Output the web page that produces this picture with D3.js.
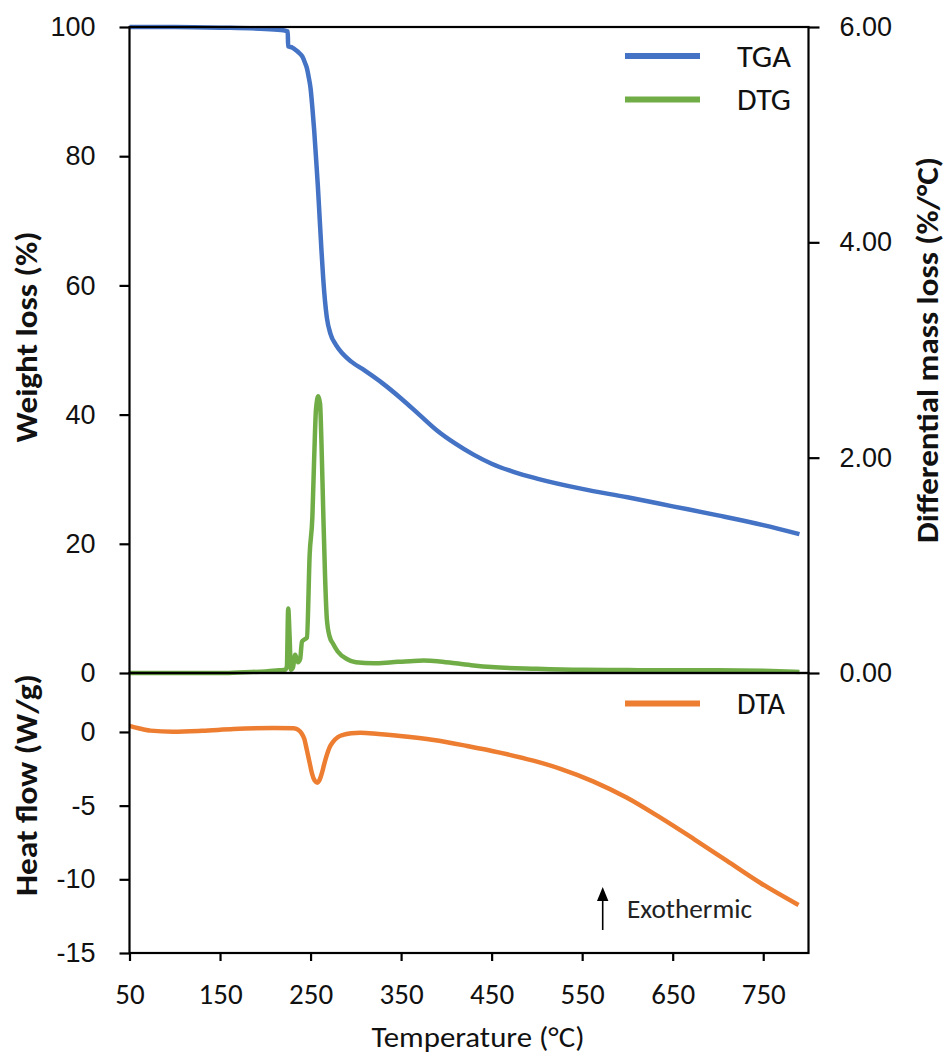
<!DOCTYPE html>
<html>
<head>
<meta charset="utf-8">
<script src="https://cdn.jsdelivr.net/npm/d3@7"></script>
<style>
  html, body { margin: 0; padding: 0; background: #fff; }
  svg { display: block; }
</style>
</head>
<body>
<svg id="chart" width="945" height="1057"></svg>
<script>
// ---------------- DATA ----------------
const xTicks = [50, 150, 250, 350, 450, 550, 650, 750];
const yLeftTicks = [0, 20, 40, 60, 80, 100];
const yRightTicks = [0, 2, 4, 6];
const yHeatTicks = [0, -5, -10, -15];

// TGA: temperature (°C) / weight (%)
const tgaT = [50, 100, 150, 200, 220, 224.8, 225.2, 230, 234, 238, 241, 244, 246, 248, 250, 252, 254, 256, 258, 260, 262, 264, 266, 268, 272, 278, 285, 295, 310, 330, 350, 370, 390, 410, 430, 450, 475, 500, 550, 600, 650, 700, 750, 790];
const tgaW = [100, 100, 99.9, 99.7, 99.5, 99.3, 97.0, 96.8, 96.4, 95.9, 95.4, 94.4, 93.6, 92.2, 90.5, 87.5, 84.0, 79.8, 75.5, 70.5, 65.5, 61.0, 57.5, 55.0, 52.5, 50.8, 49.5, 48.2, 46.8, 44.8, 42.5, 40.0, 37.5, 35.5, 33.8, 32.4, 31.1, 30.1, 28.5, 27.2, 25.8, 24.4, 22.9, 21.5];

// DTG: temperature (°C) / differential mass loss (%/°C)
const dtgT = [50, 150, 170, 200, 215, 222, 223.8, 225.3, 226.8, 228.3, 230.5, 233, 236, 238.5, 240.5, 243, 246, 249, 252, 254, 256, 258.5, 260.5, 262, 264, 266, 268, 271, 275, 280, 290, 300, 320, 340, 360, 375, 390, 410, 430, 450, 500, 550, 600, 650, 700, 750, 790];
const dtgV = [0, 0, 0.005, 0.015, 0.025, 0.03, 0.06, 0.60, 0.35, 0.03, 0.05, 0.17, 0.10, 0.13, 0.29, 0.31, 0.33, 1.10, 1.45, 2.00, 2.45, 2.57, 2.50, 2.15, 1.50, 0.90, 0.50, 0.34, 0.27, 0.20, 0.13, 0.10, 0.09, 0.10, 0.11, 0.115, 0.11, 0.09, 0.07, 0.055, 0.04, 0.03, 0.027, 0.025, 0.025, 0.02, 0.01];

// DTA: temperature (°C) / heat flow (W/g)
const dtaT = [50, 60, 73, 98, 130, 165, 209, 231, 236, 240, 243, 246, 249, 251.5, 254.5, 257.5, 260, 262.5, 265, 268, 271, 275, 280, 286, 295, 305, 325, 349, 386, 423, 459, 496, 526, 562, 599, 636, 673, 710, 747, 789];
const dtaV = [0.41, 0.25, 0.09, 0.02, 0.08, 0.20, 0.27, 0.25, 0.15, -0.09, -0.45, -1.25, -2.1, -2.8, -3.3, -3.44, -3.25, -2.8, -2.2, -1.56, -1.05, -0.66, -0.36, -0.2, -0.09, -0.05, -0.14, -0.27, -0.54, -0.95, -1.40, -1.95, -2.50, -3.35, -4.45, -5.80, -7.25, -8.75, -10.25, -11.74];

const seriesNames = ["TGA", "DTG", "DTA"];
const seriesColors = ["#4472C4", "#70AD47", "#ED7D31"];

// ---------------- LAYOUT ----------------
const svg = d3.select("#chart");
const L = 129.5, R = 808.5, T1 = 27, B1 = 673, B2 = 953;
const x = d3.scaleLinear().domain([50, 800]).range([L, R]);
const yL = d3.scaleLinear().domain([0, 100]).range([B1, T1]);
const yR = d3.scaleLinear().domain([0, 6]).range([B1, T1]);
const yH = d3.scaleLinear().domain([-15, 4]).range([B2, B1]);

const calibri = "Carlito, Calibri, Lato, 'Noto Sans', sans-serif";
const tickFont = "'Liberation Sans', Arial, sans-serif";

function zip(a, b) { return a.map((v, i) => [v, b[i]]); }

// lines
const lw = 4.5;
const lineTGA = d3.line().x(d => x(d[0])).y(d => yL(d[1])).curve(d3.curveMonotoneX);
const lineDTG = d3.line().x(d => x(d[0])).y(d => yR(d[1])).curve(d3.curveMonotoneX);
const lineDTA = d3.line().x(d => x(d[0])).y(d => yH(d[1])).curve(d3.curveMonotoneX);

svg.append("path").attr("d", lineDTG(zip(dtgT, dtgV))).attr("fill", "none")
  .attr("stroke", seriesColors[1]).attr("stroke-width", lw).attr("stroke-linejoin", "round");
svg.append("path").attr("d", lineTGA(zip(tgaT, tgaW))).attr("fill", "none")
  .attr("stroke", seriesColors[0]).attr("stroke-width", lw).attr("stroke-linejoin", "round");
svg.append("path").attr("d", lineDTA(zip(dtaT, dtaV))).attr("fill", "none")
  .attr("stroke", seriesColors[2]).attr("stroke-width", lw).attr("stroke-linejoin", "round");

// frames
const frame = svg.append("g").attr("fill", "none").attr("stroke", "#000").attr("stroke-width", 2.2);
frame.append("rect").attr("x", L).attr("y", T1).attr("width", R - L).attr("height", B1 - T1);
frame.append("rect").attr("x", L).attr("y", B1).attr("width", R - L).attr("height", B2 - B1);

// axes
const plain = d => String(d);
function styleAxis(g) {
  g.select(".domain").remove();
  g.selectAll(".tick line").attr("stroke", "#000").attr("stroke-width", 2.2);
  g.selectAll(".tick text").attr("fill", "#111");
}
const axL = svg.append("g").attr("transform", `translate(${L},0)`)
  .call(d3.axisLeft(yL).tickValues(yLeftTicks).tickSize(10).tickPadding(24).tickFormat(plain));
styleAxis(axL);
axL.selectAll(".tick text").attr("font-family", tickFont).attr("font-size", 27);

const axR = svg.append("g").attr("transform", `translate(${R},0)`)
  .call(d3.axisRight(yR).tickValues(yRightTicks).tickSize(11).tickPadding(20).tickFormat(d => d.toFixed(2)));
styleAxis(axR);
axR.selectAll(".tick text").attr("font-family", tickFont).attr("font-size", 27);

const axH = svg.append("g").attr("transform", `translate(${L},0)`)
  .call(d3.axisLeft(yH).tickValues(yHeatTicks).tickSize(10).tickPadding(24).tickFormat(plain));
styleAxis(axH);
axH.selectAll(".tick text").attr("font-family", tickFont).attr("font-size", 27);

const axX = svg.append("g").attr("transform", `translate(0,${B2})`)
  .call(d3.axisBottom(x).tickValues(xTicks).tickSize(8).tickPadding(22).tickFormat(plain));
styleAxis(axX);
axX.selectAll(".tick text").attr("font-family", calibri).attr("font-size", 29);

// axis titles
svg.append("text").attr("transform", "translate(37,337) rotate(-90)")
  .attr("text-anchor", "middle").attr("font-family", calibri).attr("font-weight", "bold")
  .attr("font-size", 31).attr("textLength", 211).attr("lengthAdjust", "spacingAndGlyphs")
  .attr("fill", "#111").text("Weight loss (%)");
svg.append("text").attr("transform", "translate(37,785) rotate(-90)")
  .attr("text-anchor", "middle").attr("font-family", calibri).attr("font-weight", "bold")
  .attr("font-size", 31).attr("textLength", 222).attr("lengthAdjust", "spacingAndGlyphs")
  .attr("fill", "#111").text("Heat flow (W/g)");
svg.append("text").attr("transform", "translate(938,350) rotate(-90)")
  .attr("text-anchor", "middle").attr("font-family", calibri).attr("font-weight", "bold")
  .attr("font-size", 31).attr("textLength", 386).attr("lengthAdjust", "spacingAndGlyphs")
  .attr("fill", "#111").text("Differential mass loss (%/°C)");
svg.append("text").attr("x", 478).attr("y", 1047)
  .attr("text-anchor", "middle").attr("font-family", calibri)
  .attr("font-size", 29).attr("textLength", 213).attr("lengthAdjust", "spacingAndGlyphs")
  .attr("fill", "#111").text("Temperature (°C)");

// legends
const legendItems = [
  { name: seriesNames[0], color: seriesColors[0], y: 56, w: 54 },
  { name: seriesNames[1], color: seriesColors[1], y: 99.5, w: 54 },
  { name: seriesNames[2], color: seriesColors[2], y: 703.5, w: 48 }
];
legendItems.forEach(it => {
  svg.append("line").attr("x1", 625).attr("x2", 700).attr("y1", it.y).attr("y2", it.y)
    .attr("stroke", it.color).attr("stroke-width", 6);
  svg.append("text").attr("x", 737).attr("y", it.y + 10.5).attr("font-family", calibri)
    .attr("font-size", 30).attr("textLength", it.w).attr("lengthAdjust", "spacingAndGlyphs")
    .attr("fill", "#111").text(it.name);
});

// Exothermic annotation
svg.append("line").attr("x1", 602.7).attr("x2", 602.7).attr("y1", 930).attr("y2", 898)
  .attr("stroke", "#000").attr("stroke-width", 1.6);
svg.append("path").attr("d", "M602.7,887 L597,901 L608.4,901 Z").attr("fill", "#000");
svg.append("text").attr("x", 627).attr("y", 918).attr("font-family", calibri)
  .attr("font-size", 26).attr("textLength", 125).attr("lengthAdjust", "spacingAndGlyphs")
  .attr("fill", "#222").text("Exothermic");
</script>
</body>
</html>
